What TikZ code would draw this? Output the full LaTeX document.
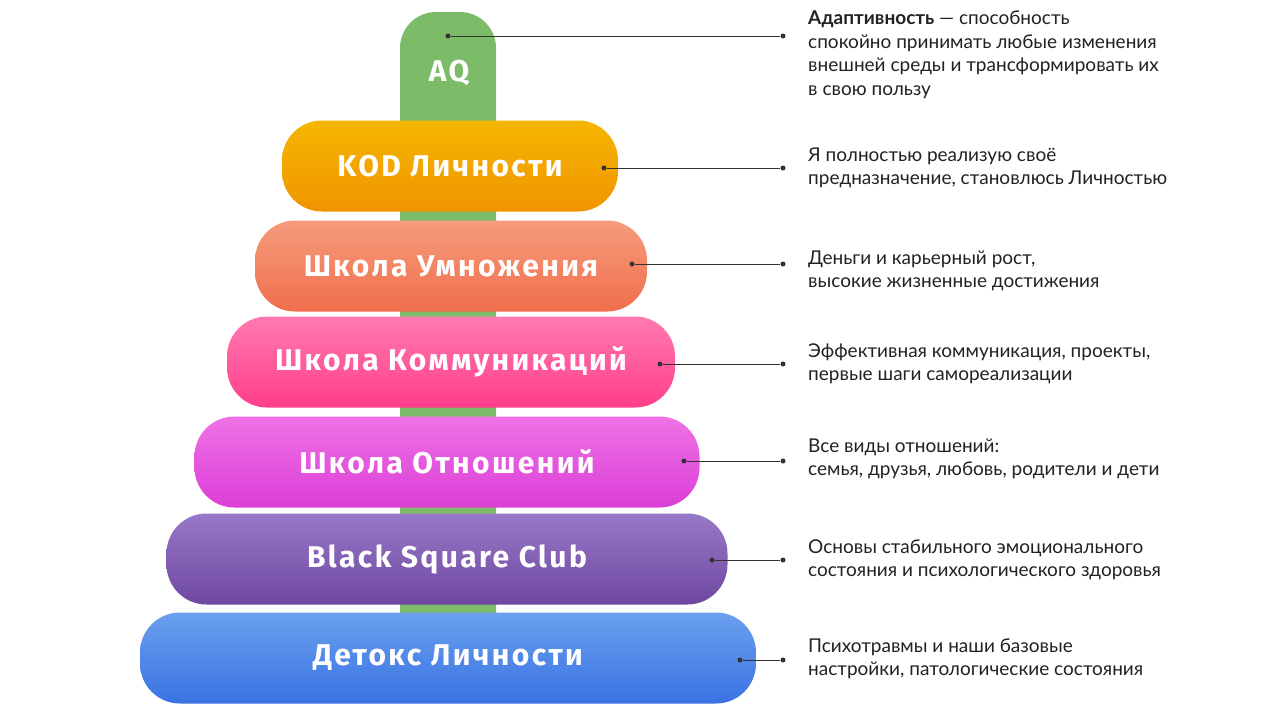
\documentclass[tikz,border=0pt]{standalone}
\usepackage{fontspec}
\setmainfont{Lato}
\newfontfamily\levelfont[LetterSpace=8]{Fira Sans}
\usepackage{tikz}
\usetikzlibrary{positioning}

\definecolor{stemgreen}{HTML}{7CBB68}
\definecolor{linegray}{HTML}{333333}
\definecolor{textgray}{HTML}{222222}

\begin{document}
\begin{tikzpicture}[
    x=1pt, y=-1pt,
    level/.style={rounded corners=40pt, minimum height=91pt, inner sep=0pt, text=white,
                  font=\levelfont\bfseries\fontsize{30}{33}\selectfont},
    desc/.style={anchor=west, align=left, inner sep=0pt, text=textgray,
                 font=\fontsize{19}{23.5}\selectfont},
    dot/.style={circle, fill=linegray, inner sep=0pt, minimum size=5pt},
    link/.style={draw=linegray, line width=0.9pt}
]
\fill[white] (0,0) rectangle (1280,720);
\useasboundingbox (0,0) rectangle (1280,720);

% stem behind the levels
\node[fill=stemgreen, rounded corners=36pt, minimum width=96pt, minimum height=668pt, inner sep=0pt] (stem) at (448,346) {};
\node[text=white, font=\levelfont\bfseries\fontsize{30}{33}\selectfont] (aq) at (449,73) {AQ};

% levels
\node[level, minimum width=336pt, top color={rgb,255:red,245;green,182;blue,0}, bottom color={rgb,255:red,240;green,148;blue,0}] (kod) at (450,166) {KOD Личности};
\node[level, minimum width=392pt, top color={rgb,255:red,245;green,156;blue,124}, bottom color={rgb,255:red,240;green,110;blue,76}] (mult) at (451,266) {Школа Умножения};
\node[level, minimum width=448pt, top color={rgb,255:red,255;green,122;blue,176}, bottom color={rgb,255:red,255;green,62;blue,138}] (comm) at (451,362) {Школа Коммуникаций};
\node[level, minimum width=505pt, top color={rgb,255:red,238;green,114;blue,230}, bottom color={rgb,255:red,220;green,62;blue,214}] (rel) at (447,462) {Школа Отношений};
\node[level, minimum width=561pt, top color={rgb,255:red,152;green,120;blue,200}, bottom color={rgb,255:red,110;green,72;blue,160}] (bsc) at (447,559) {Black Square Club};
\node[level, minimum width=616pt, top color={rgb,255:red,106;green,160;blue,238}, bottom color={rgb,255:red,58;green,114;blue,226}] (detox) at (448,658) {Детокс Личности};

% dots
\node[dot] (d0) at (448,36) {};
\node[dot] (d1) at (604,168) {};
\node[dot] (d2) at (632,264) {};
\node[dot] (d3) at (660,364) {};
\node[dot] (d4) at (684,461) {};
\node[dot] (d5) at (712,560) {};
\node[dot] (d6) at (740,660) {};
\node[dot] (e0) at (783,36) {};
\node[dot] (e1) at (783,168) {};
\node[dot] (e2) at (783,264) {};
\node[dot] (e3) at (783,364) {};
\node[dot] (e4) at (783,461) {};
\node[dot] (e5) at (783,560) {};
\node[dot] (e6) at (783,660) {};
\foreach \i in {0,...,6}
  \draw[link] (d\i) -- (e\i);

% descriptions
\node[desc, anchor=north west] (t0) at (808,11) {\textbf{Адаптивность} — способность\\спокойно принимать любые изменения\\внешней среды и трансформировать их\\в свою пользу};
\node[desc] (t1) at (808,168) {Я полностью реализую своё\\предназначение, становлюсь Личностью};
\node[desc] (t2) at (808,271) {Деньги и карьерный рост,\\высокие жизненные достижения};
\node[desc] (t3) at (808,364) {Эффективная коммуникация, проекты,\\первые шаги самореализации};
\node[desc] (t4) at (808,459) {Все виды отношений:\\семья, друзья, любовь, родители и дети};
\node[desc] (t5) at (808,560) {Основы стабильного эмоционального\\состояния и психологического здоровья};
\node[desc] (t6) at (808,659) {Психотравмы и наши базовые\\настройки, патологические состояния};
\end{tikzpicture}
\end{document}
